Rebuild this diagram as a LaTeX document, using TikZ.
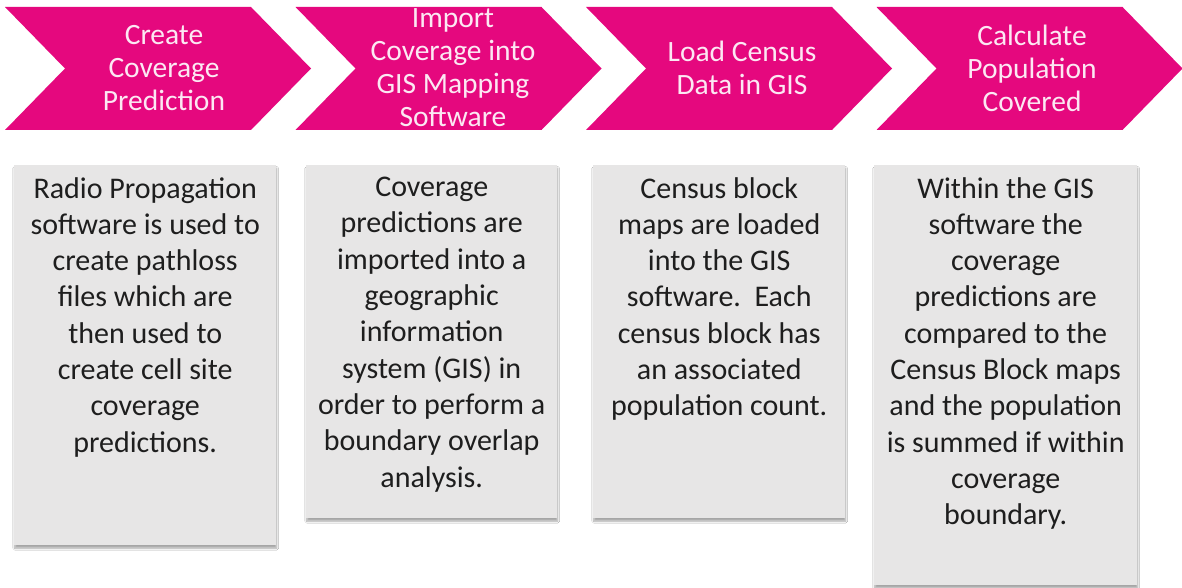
\documentclass[tikz,border=0pt]{standalone}
\usepackage{fontspec}
\setmainfont{Carlito}
\usetikzlibrary{shadows.blur}
\definecolor{stepmagenta}{RGB}{229,8,126}
\definecolor{steptext}{RGB}{252,232,243}
\definecolor{panelgray}{RGB}{231,230,230}
\definecolor{paneltext}{RGB}{30,30,30}
\begin{document}
\begin{tikzpicture}[x=1pt,y=-1pt,
  chevron/.style={fill=stepmagenta,draw=none},
  steplabel/.style={text=steptext,align=center,inner sep=0pt,
    font=\fontsize{29.5}{33}\selectfont},
  panel/.style={fill=panelgray,draw=none,inner sep=0pt,
    blur shadow={shadow xshift=0.5pt,shadow yshift=-3pt,shadow opacity=35,shadow blur steps=6}},
  paneltxt/.style={text=paneltext,align=center,inner sep=0pt,anchor=north,
    font=\fontsize{30}{36.3}\selectfont}]
\useasboundingbox (0,0) rectangle (1182,588);
\fill[white] (0,0) rectangle (1182,588);

% process chevrons along the top
\foreach \i/\x in {1/5,2/295.5,3/586,4/876.5}{
  \fill[chevron] (\x,7) -- ++(246,0) -- ++(60,61.5) -- ++(-60,61.5)
    -- ++(-246,0) -- ++(60,-61.5) -- cycle;
}
\node[steplabel] (c1) at (164,68) {Create\\Coverage\\Prediction};
\node[steplabel] (c2) at (453,68) {Import\\Coverage into\\GIS Mapping\\Software};
\node[steplabel] (c3) at (742,68) {Load Census\\Data in GIS};
\node[steplabel] (c4) at (1032,68) {Calculate\\Population\\Covered};

% description panels below each step
\path (14,165) node[panel,anchor=north west,minimum width=262pt,minimum height=380pt] (b1) {};
\path (306,165) node[panel,anchor=north west,minimum width=251pt,minimum height=353pt] (b2) {};
\path (593,165) node[panel,anchor=north west,minimum width=252pt,minimum height=353pt] (b3) {};
\path (874,165) node[panel,anchor=north west,minimum width=263pt,minimum height=420pt] (b4) {};

\node[paneltxt] (t1) at ([yshift=-12pt]b1.north) {Radio Propagation\\software is used to\\create pathloss\\files which are\\then used to\\create cell site\\coverage\\predictions.};
\node[paneltxt] (t2) at ([yshift=-12pt]b2.north) {Coverage\\predictions are\\imported into a\\geographic\\information\\system (GIS) in\\order to perform a\\boundary overlap\\analysis.};
\node[paneltxt] (t3) at ([yshift=-12pt]b3.north) {Census block\\maps are loaded\\into the GIS\\software.\ \ Each\\census block has\\an associated\\population count.};
\node[paneltxt] (t4) at ([yshift=-12pt]b4.north) {Within the GIS\\software the\\coverage\\predictions are\\compared to the\\Census Block maps\\and the population\\is summed if within\\coverage\\boundary.};
\end{tikzpicture}
\end{document}
